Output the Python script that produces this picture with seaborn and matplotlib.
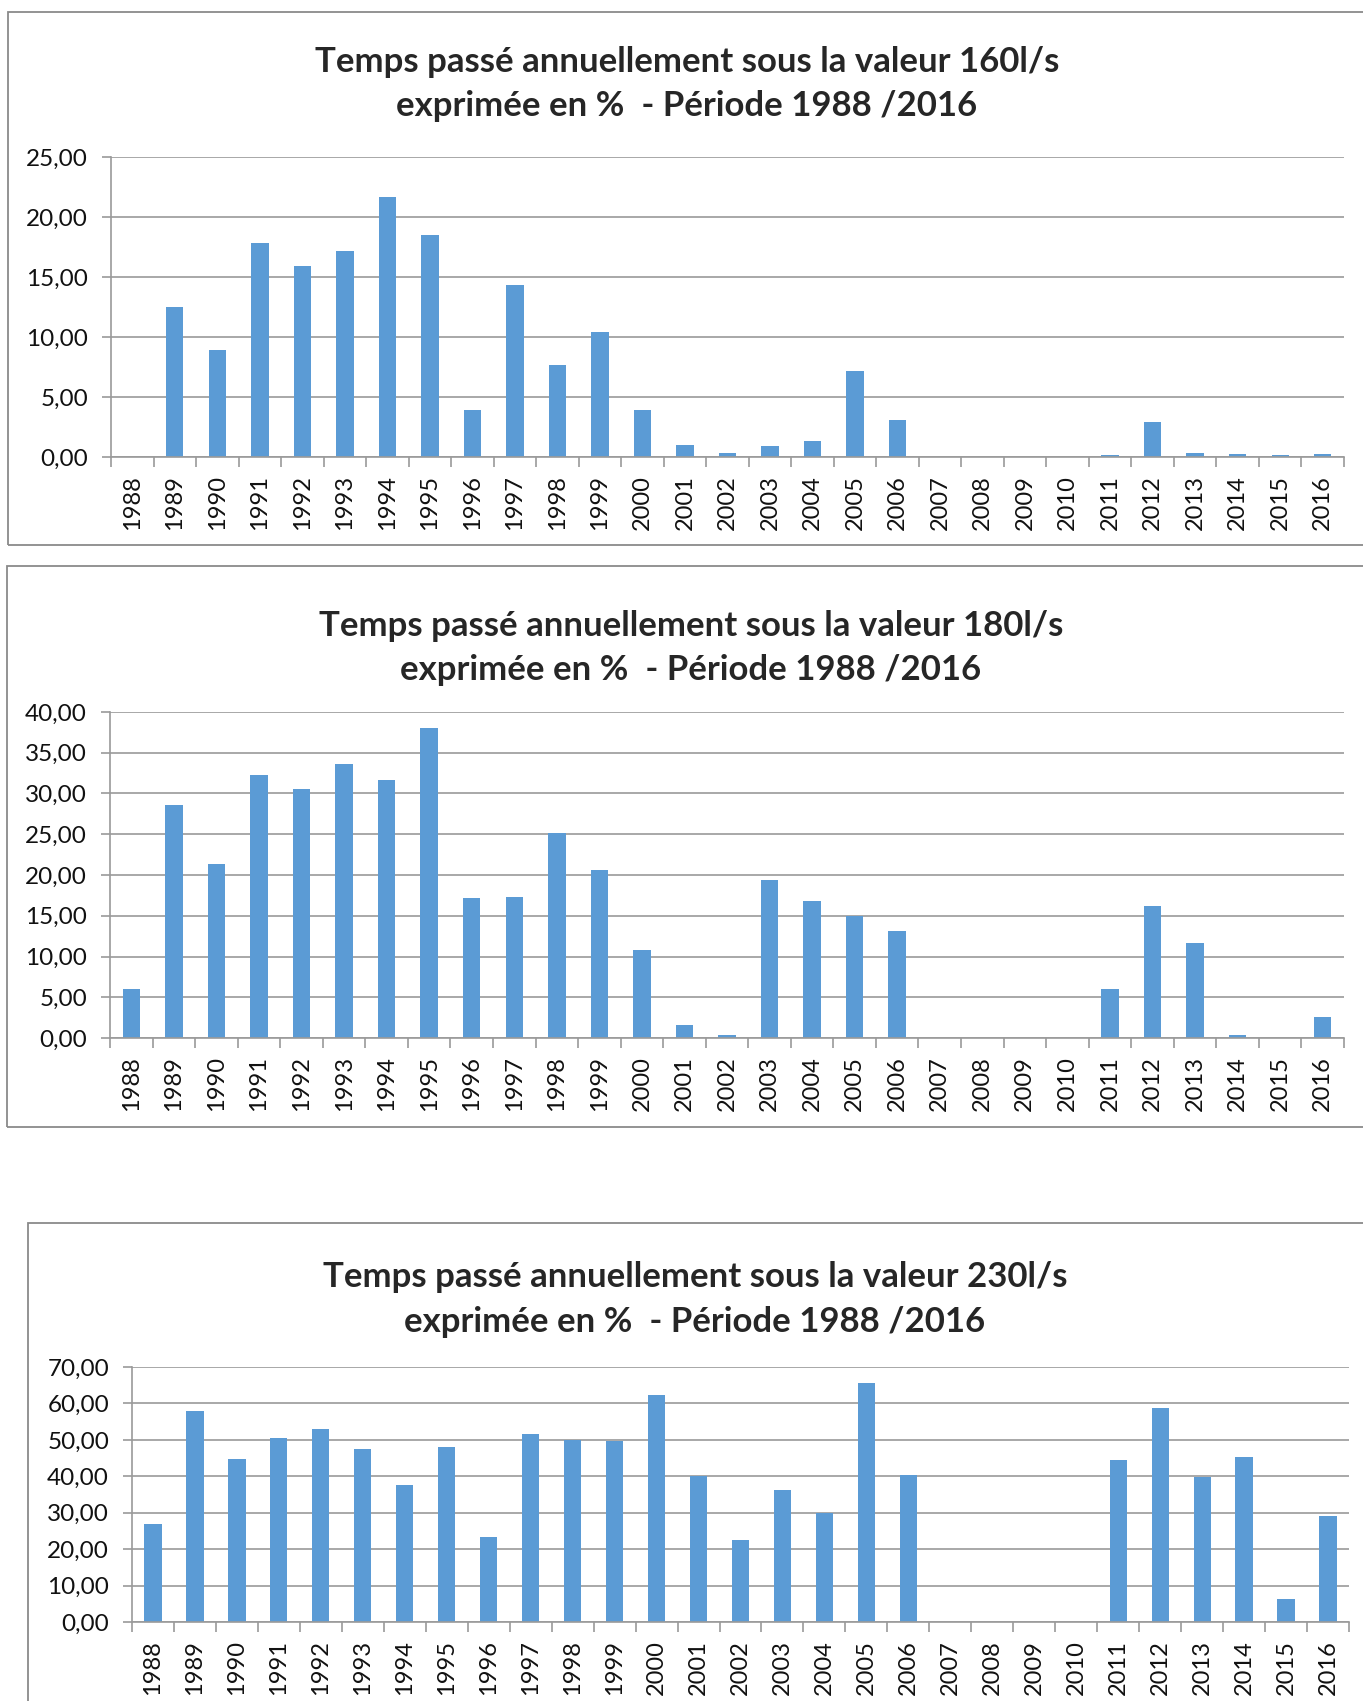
import seaborn as sns
import numpy as np
import pandas as pd
import matplotlib.pyplot as plt
from matplotlib.patches import Rectangle
from matplotlib.ticker import FuncFormatter, FixedLocator, MultipleLocator

# data
years = [str(y) for y in range(1988, 2017)]

vals_160 = [0.0, 12.5, 8.9, 17.8, 15.9, 17.2, 21.7, 18.5, 3.9, 14.3,
            7.7, 10.4, 3.9, 1.0, 0.3, 0.9, 1.3, 7.2, 3.1, 0.0,
            0.0, 0.0, 0.0, 0.15, 2.9, 0.35, 0.25, 0.15, 0.25]

vals_180 = [6.0, 28.6, 21.4, 32.3, 30.6, 33.6, 31.7, 38.0, 17.2, 17.3,
            25.2, 20.6, 10.8, 1.6, 0.4, 19.4, 16.8, 15.0, 13.1, 0.0,
            0.0, 0.0, 0.0, 6.0, 16.2, 11.6, 0.4, 0.0, 2.6]

vals_230 = [27.0, 57.8, 44.8, 50.4, 53.0, 47.4, 37.5, 48.0, 23.2, 51.7,
            50.0, 49.6, 62.2, 40.2, 22.5, 36.1, 30.0, 65.5, 40.3, 0.0,
            0.0, 0.0, 0.0, 44.4, 58.8, 39.9, 45.2, 6.3, 29.0]

titles = ["Temps passé annuellement sous la valeur 160l/s\nexprimée en %  - Période 1988 /2016",
          "Temps passé annuellement sous la valeur 180l/s\nexprimée en %  - Période 1988 /2016",
          "Temps passé annuellement sous la valeur 230l/s\nexprimée en %  - Période 1988 /2016"]
y_max = [25, 40, 70]
y_step = [5, 5, 10]

sns.set_theme(style='white')
plt.rcParams['font.family'] = ['Lato', 'DejaVu Sans']

W, H = 1363, 1701
fig = plt.figure(figsize=(W / 100, H / 100), dpi=100)

BAR = '#5B9BD5'
GRID = '#9A9A9A'
FRAME = '#8A8A8A'

# pixel layout: (left, right, top, bottom) of the plot area
axes_px = [(111, 1344, 157, 457), (110, 1344, 712, 1038), (132, 1349, 1367, 1622)]
# chart frames: (left, top, bottom)
frames_px = [(8, 12, 545), (7, 566, 1127), (28, 1223, 1720)]
title_px = [(687, 84), (691, 648), (695, 1299)]


def px_rect(l, r, t, b):
    return [l / W, 1 - b / H, (r - l) / W, (b - t) / H]


for i, vals in enumerate([vals_160, vals_180, vals_230]):
    fl, ft, fb = frames_px[i]
    fig.patches.append(Rectangle((fl / W, 1 - fb / H), (1400 - fl) / W, (fb - ft) / H,
                                 transform=fig.transFigure, fill=False,
                                 edgecolor=FRAME, linewidth=1.3, zorder=0))

    df = pd.DataFrame({'annee': years, 'pct': vals})
    ax = fig.add_axes(px_rect(*axes_px[i]))
    sns.barplot(data=df, x='annee', y='pct', color=BAR, saturation=1,
                width=0.41, ax=ax, linewidth=0)
    ax.set_xlabel('')
    ax.set_ylabel('')
    ax.set_xlim(-0.5, len(years) - 0.5)
    ax.set_ylim(0, y_max[i])
    ax.yaxis.set_major_locator(MultipleLocator(y_step[i]))
    ax.yaxis.set_major_formatter(FuncFormatter(lambda v, p: f"{v:.2f}".replace('.', ',')))
    ax.grid(axis='y', color=GRID, linewidth=1.2)
    ax.set_axisbelow(True)

    # ticks between categories, labels at centres
    ax.xaxis.set_minor_locator(FixedLocator(np.arange(-0.5, len(years), 1.0)))
    ax.tick_params(axis='x', which='major', length=0, pad=13, labelrotation=90,
                   labelsize=17, labelcolor='#111111')
    ax.tick_params(axis='x', which='minor', length=7, width=1.2, color=GRID,
                   direction='out', bottom=True)
    ax.tick_params(axis='y', length=6.5, width=1.2, color=GRID, direction='out',
                   left=True, labelsize=17.5, pad=10, labelcolor='#111111')

    for s in ['top', 'right']:
        ax.spines[s].set_visible(False)
    for s in ['left', 'bottom']:
        ax.spines[s].set_color(GRID)
        ax.spines[s].set_linewidth(1.2)

    tx, ty = title_px[i]
    fig.text(tx / W, 1 - ty / H, titles[i], ha='center', va='center',
             fontsize=25, fontweight='bold', linespacing=1.5)

fig.savefig('out.png', dpi=100, facecolor='white')
